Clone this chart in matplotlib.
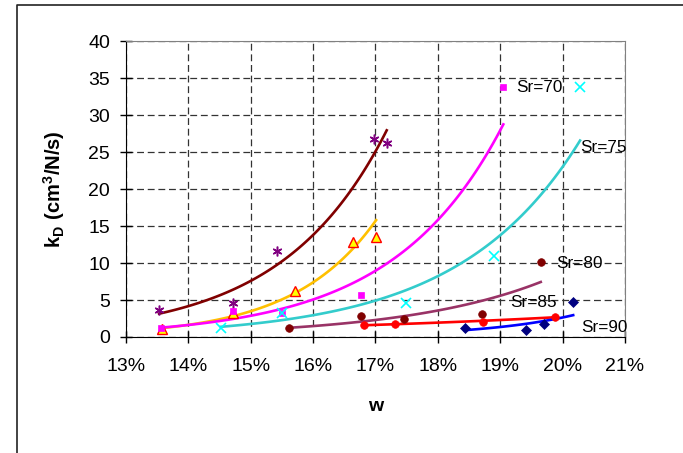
import numpy as np
import matplotlib
matplotlib.use("Agg")
import matplotlib.pyplot as plt
from matplotlib.lines import Line2D

plt.rcParams['font.family'] = ['Liberation Sans', 'DejaVu Sans']
plt.rcParams['mathtext.fontset'] = 'custom'
plt.rcParams['mathtext.rm'] = 'Liberation Sans'
plt.rcParams['mathtext.bf'] = 'Liberation Sans:bold'

# -----------------------------
# DATA (w in %, kD in cm3/N/s)
# -----------------------------

w_60 = [13.53, 14.71, 15.42, 16.97, 17.18]
k_60 = [3.62, 4.55, 11.7, 26.8, 26.3]

w_65 = [13.57, 14.71, 15.71, 16.64, 17.01]
k_65 = [1.04, 3.3, 6.25, 12.9, 13.6]

w_70 = [13.56, 14.71, 15.50, 16.77, 19.05]
k_70 = [1.18, 3.55, 3.3, 5.7, 33.8]

w_75 = [14.52, 15.50, 17.49, 18.90, 20.28]
k_75 = [1.27, 3.2, 4.57, 11.0, 33.9]

w_80 = [15.61, 16.77, 17.46, 18.70, 19.65]
k_80 = [1.2, 2.85, 2.4, 3.17, 10.2]

w_85 = [16.81, 17.32, 18.72, 19.88]
k_85 = [1.63, 1.72, 2.08, 2.76]

w_90 = [18.43, 19.41, 19.71, 20.17]
k_90 = [1.25, 1.0, 1.8, 4.7]

labels = ["Sr=70", "Sr=75", "Sr=80", "Sr=85", "Sr=90"]
label_pos = [(19.25, 33.8), (20.28, 25.7), (19.89, 10.0), (19.16, 4.73), (20.30, 1.31)]

xticks = [13, 14, 15, 16, 17, 18, 19, 20, 21]
yticks = [0, 5, 10, 15, 20, 25, 30, 35, 40]

# marker style, marker colors, trendline color
series = [
    (w_60, k_60, dict(marker=(6, 2, 0), ms=7, mec='#800080', mfc='none', mew=1.1), '#800000'),
    (w_65, k_65, dict(marker='^', ms=6.5, mec='#FF0000', mfc='#FFFF00', mew=1.0), '#FFC000'),
    (w_70, k_70, dict(marker='s', ms=5, mec='#FF00FF', mfc='#FF00FF', mew=0.5), '#FF00FF'),
    (w_75, k_75, dict(marker='x', ms=6.5, mec='#00FFFF', mew=1.2), '#33CCCC'),
    (w_80, k_80, dict(marker='o', ms=5.5, mec='#800000', mfc='#800000', mew=0.5), '#993366'),
    (w_85, k_85, dict(marker='o', ms=5.5, mec='#FF0000', mfc='#FF0000', mew=0.5), '#FF0000'),
    (w_90, k_90, dict(marker='D', ms=5.2, mec='#000080', mfc='#000080', mew=0.5), '#0000FF'),
]

# -----------------------------
# PLOT
# -----------------------------

fig = plt.figure(figsize=(6.83, 4.53), dpi=100)
ax = fig.add_axes([0.1845, 0.2561, 0.7305, 0.6523])

for w, k, mstyle, tcolor in series:
    w = np.array(w)
    k = np.array(k)
    # exponential trendline fitted like Excel does (least squares on ln k)
    b, ln_a = np.polyfit(w, np.log(k), 1)
    wt = np.linspace(w.min(), w.max(), 100)
    ax.plot(wt, np.exp(ln_a + b * wt), color=tcolor, lw=1.9, zorder=3)
    ax.plot(w, k, ls='none', zorder=4, **mstyle)

for txt, (x, y) in zip(labels, label_pos):
    ax.text(x, y, txt, fontsize=12.3, ha='left', va='center', zorder=5)

ax.set_xlim(13, 21)
ax.set_ylim(0, 40)
ax.set_xticks(xticks)
ax.set_yticks(yticks)
ax.set_xticklabels([f"{t}%" for t in xticks])
ax.tick_params(direction='inout', length=9, width=1, labelsize=14, color='black')
ax.tick_params(axis='y', pad=7)
ax.tick_params(axis='x', pad=10.5)

ax.grid(True, color='#333333', ls=(0, (5.5, 3)), lw=0.9)
ax.set_axisbelow(True)
for s in ['top', 'right']:
    ax.spines[s].set_color('#808080')
for s in ['left', 'bottom']:
    ax.spines[s].set_color('black')

ax.set_ylabel(r"$\mathbf{k_D\ (cm^3/N/s)}$", fontsize=14.5)
ax.yaxis.set_label_coords(-0.118, 0.5)
ax.set_xlabel("w", fontsize=14, fontweight='bold')
ax.xaxis.set_label_coords(0.5, -0.205)

# chart area border (cropped at right and bottom)
fig.add_artist(Line2D([0.0256, 0.0256, 1.0], [0.0, 0.9896, 0.9896],
                      transform=fig.transFigure, color='#222222', lw=1.2))

fig.savefig("out.png", dpi=100)
